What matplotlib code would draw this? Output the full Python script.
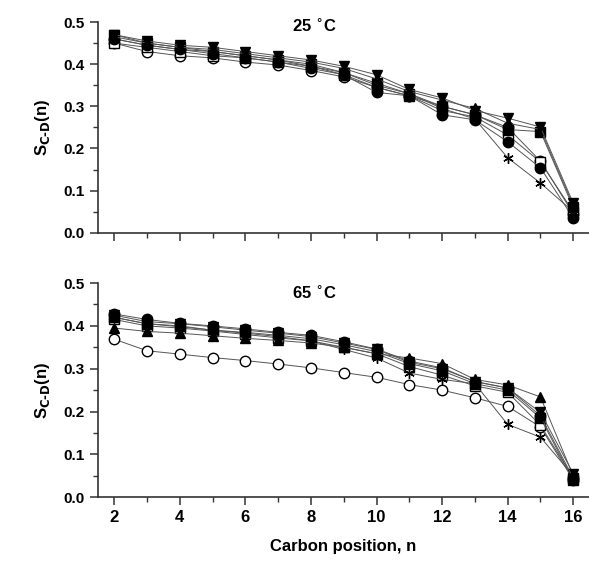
"""Order parameter profiles S_CD(n) along the acyl chain at 25 and 65 degC."""

import matplotlib

matplotlib.use("Agg")
import matplotlib.pyplot as plt
from matplotlib.ticker import MultipleLocator

plt.rcParams["font.family"] = ["Liberation Sans", "DejaVu Sans"]
plt.rcParams["font.weight"] = "bold"
plt.rcParams["axes.labelweight"] = "bold"
plt.rcParams["mathtext.default"] = "bf"

carbon = [2, 3, 4, 5, 6, 7, 8, 9, 10, 11, 12, 13, 14, 15, 16]

# 25 degC
top_tri_down = [0.470, 0.455, 0.445, 0.440, 0.430, 0.420, 0.410, 0.395, 0.375, 0.340, 0.320, 0.290, 0.272, 0.251, 0.070]
top_tri_up = [0.465, 0.450, 0.440, 0.435, 0.425, 0.415, 0.405, 0.390, 0.365, 0.335, 0.315, 0.295, 0.260, 0.245, 0.065]
top_sq_fill = [0.470, 0.450, 0.440, 0.430, 0.420, 0.410, 0.400, 0.380, 0.355, 0.330, 0.300, 0.280, 0.245, 0.240, 0.060]
top_sq_open = [0.450, 0.440, 0.430, 0.420, 0.415, 0.405, 0.395, 0.375, 0.345, 0.325, 0.290, 0.275, 0.232, 0.168, 0.050]
top_circ_fill = [0.460, 0.445, 0.435, 0.425, 0.415, 0.405, 0.390, 0.375, 0.333, 0.325, 0.280, 0.268, 0.216, 0.154, 0.035]
top_circ_open = [0.450, 0.430, 0.420, 0.415, 0.405, 0.398, 0.385, 0.370, 0.345, 0.325, 0.300, 0.280, 0.250, 0.170, 0.045]
top_star = [0.460, 0.445, 0.435, 0.430, 0.420, 0.410, 0.395, 0.380, 0.350, 0.330, 0.295, 0.270, 0.178, 0.118, 0.050]

# 65 degC
bot_tri_up = [0.395, 0.387, 0.383, 0.377, 0.371, 0.366, 0.360, 0.350, 0.335, 0.325, 0.312, 0.275, 0.262, 0.234, 0.050]
bot_tri_down = [0.425, 0.410, 0.405, 0.398, 0.390, 0.383, 0.375, 0.360, 0.345, 0.315, 0.300, 0.270, 0.255, 0.198, 0.055]
bot_circ_fill = [0.428, 0.415, 0.406, 0.400, 0.393, 0.385, 0.378, 0.363, 0.346, 0.318, 0.302, 0.270, 0.255, 0.190, 0.045]
bot_sq_fill = [0.420, 0.405, 0.400, 0.390, 0.385, 0.378, 0.370, 0.356, 0.340, 0.312, 0.295, 0.265, 0.250, 0.185, 0.040]
bot_sq_open = [0.415, 0.400, 0.395, 0.388, 0.380, 0.372, 0.365, 0.350, 0.335, 0.305, 0.285, 0.260, 0.245, 0.168, 0.045]
bot_star = [0.420, 0.405, 0.398, 0.390, 0.383, 0.375, 0.365, 0.345, 0.325, 0.290, 0.275, 0.265, 0.170, 0.140, 0.050]
bot_circ_open = [0.369, 0.342, 0.334, 0.326, 0.319, 0.311, 0.302, 0.291, 0.280, 0.263, 0.250, 0.232, 0.212, 0.164, 0.040]

STYLES = {
    "tri_down": dict(marker="v", mfc="black"),
    "tri_up": dict(marker="^", mfc="black"),
    "sq_fill": dict(marker="s", mfc="black"),
    "sq_open": dict(marker="s", mfc="white"),
    "circ_fill": dict(marker="o", mfc="black"),
    "circ_open": dict(marker="o", mfc="white"),
    "star": dict(marker=(6, 2, 0), mfc="black"),
}

top_series = [
    ("circ_open", top_circ_open), ("sq_open", top_sq_open), ("star", top_star),
    ("circ_fill", top_circ_fill), ("sq_fill", top_sq_fill), ("tri_up", top_tri_up),
    ("tri_down", top_tri_down),
]
bot_series = [
    ("circ_open", bot_circ_open), ("sq_open", bot_sq_open), ("star", bot_star),
    ("sq_fill", bot_sq_fill), ("tri_up", bot_tri_up), ("tri_down", bot_tri_down),
    ("circ_fill", bot_circ_fill),
]


def style_axis(ax, show_xlabels):
    for side in ("top", "right"):
        ax.spines[side].set_visible(False)
    for side in ("left", "bottom"):
        ax.spines[side].set_linewidth(1.2)
        ax.spines[side].set_color("#333333")
    ax.set_xlim(1.5, 16.48)
    ax.set_ylim(0.0, 0.5)
    ax.xaxis.set_major_locator(MultipleLocator(2))
    ax.xaxis.set_minor_locator(MultipleLocator(1))
    ax.yaxis.set_major_locator(MultipleLocator(0.1))
    ax.yaxis.set_minor_locator(MultipleLocator(0.05))
    ax.tick_params(which="major", direction="out", length=6, width=1.1, color="#333333")
    ax.tick_params(which="minor", direction="out", length=3.5, width=1.0, color="#333333")
    ax.tick_params(axis="y", labelsize=11)
    ax.tick_params(axis="x", labelsize=12, labelbottom=show_xlabels)
    ax.set_yticks([0.0, 0.1, 0.2, 0.3, 0.4, 0.5])
    ax.set_yticklabels(["0.0", "0.1", "0.2", "0.3", "0.4", "0.5"])
    ax.set_ylabel(r"S$_{\mathbf{C\text{-}D}}$(n)", fontsize=12, labelpad=8)


def draw(ax, series):
    for key, values in series:
        st = STYLES[key]
        ax.plot(carbon, values, color="#555555", lw=0.7, marker=st["marker"],
                mfc=st["mfc"], mec="black", mew=1.0, ms=7.5, zorder=3)


fig = plt.figure(figsize=(5.89, 5.65), dpi=100)
ax1 = fig.add_axes([0.166, 0.588, 0.834, 0.373])
ax2 = fig.add_axes([0.166, 0.120, 0.834, 0.379])

draw(ax1, top_series)
draw(ax2, bot_series)
style_axis(ax1, False)
style_axis(ax2, True)

ax1.text(8.1, 0.49, r"25 $^{\circ}$C", ha="center", va="center", fontsize=12, fontweight="bold")
ax2.text(8.1, 0.477, r"65 $^{\circ}$C", ha="center", va="center", fontsize=12, fontweight="bold")
ax2.set_xlabel("Carbon position, n", fontsize=12, labelpad=10)

fig.savefig("out.png", dpi=100)
